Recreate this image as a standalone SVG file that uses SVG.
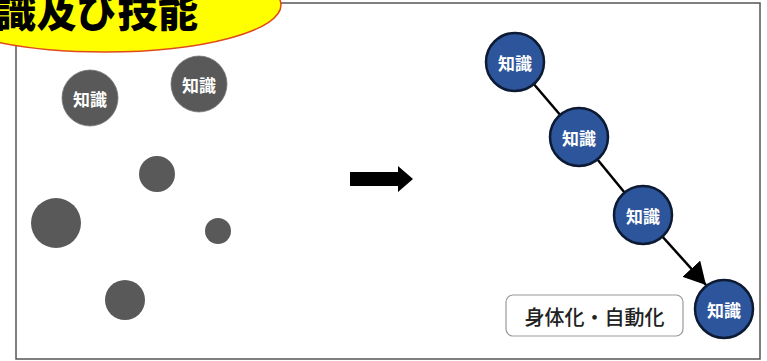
<svg xmlns="http://www.w3.org/2000/svg" width="767" height="361" viewBox="0 0 767 361">
<style>
.frame{fill:none;stroke:#555;stroke-width:1.5}
.gray{fill:#595959}
.grayn{fill:#595959;stroke:#777;stroke-width:0.8}
.blue{fill:#2d559b;stroke:#0d1a33;stroke-width:2.5}
.lbl{font-family:"Noto Sans CJK JP","Noto Sans CJK SC",sans-serif;font-weight:bold;fill:#fff;font-size:17px;text-anchor:middle;dominant-baseline:central}
.conn{stroke:#000;stroke-width:2.5;fill:none}
</style>
<defs>
<marker id="ah" markerUnits="userSpaceOnUse" markerWidth="26" markerHeight="26" refX="22" refY="12" orient="auto">
<path d="M0,0 L22,12 L0,24 Z" fill="#000"/>
</marker>
</defs>
<rect width="767" height="361" fill="#fff"/>
<rect class="frame" x="16" y="3" width="744" height="356"/>
<g id="title">
<ellipse cx="105" cy="5" rx="176" ry="47" fill="#ffff00" stroke="#e04a1a" stroke-width="1.5"/>
<text x="-4" y="27" font-family="Noto Sans CJK JP, sans-serif" font-weight="900" font-size="40" fill="#000" letter-spacing="0.5">識及び技能</text>
</g>
<g id="scatter1"><circle class="grayn" cx="90" cy="98" r="28"/><text class="lbl" x="90" y="98">知識</text></g>
<g id="scatter2"><circle class="grayn" cx="199" cy="84" r="28"/><text class="lbl" x="199" y="84">知識</text></g>
<g id="dot1"><circle class="gray" cx="157" cy="174" r="18"/></g>
<g id="dot2"><circle class="gray" cx="56" cy="223" r="25"/></g>
<g id="dot3"><circle class="gray" cx="218" cy="231" r="13"/></g>
<g id="dot4"><circle class="gray" cx="125" cy="300" r="20"/></g>
<g id="bigarrow"><path d="M350,172 L398,172 L398,166 L413,179 L398,192 L398,186 L350,186 Z" fill="#000"/></g>
<g id="connectors">
<line class="conn" x1="515" y1="62" x2="579" y2="137"/>
<line class="conn" x1="579" y1="137" x2="643" y2="215"/>
<line class="conn" x1="643" y1="215" x2="706" y2="285" marker-end="url(#ah)"/>
</g>
<g id="k1"><circle class="blue" cx="515" cy="62" r="29"/><text class="lbl" x="515" y="62">知識</text></g>
<g id="k2"><circle class="blue" cx="579" cy="137" r="29"/><text class="lbl" x="579" y="137">知識</text></g>
<g id="k3"><circle class="blue" cx="643" cy="215" r="29"/><text class="lbl" x="643" y="215">知識</text></g>
<g id="k4"><circle class="blue" cx="724" cy="309" r="29"/><text class="lbl" x="724" y="309">知識</text></g>
<g id="label">
<rect x="506" y="295" width="177" height="41" rx="7" fill="#fff" stroke="#999" stroke-width="1.2"/>
<text x="594.5" y="316" font-family="Noto Sans CJK JP, sans-serif" font-size="20" font-weight="500" fill="#222" text-anchor="middle" dominant-baseline="central">身体化・自動化</text>
</g>
</svg>
